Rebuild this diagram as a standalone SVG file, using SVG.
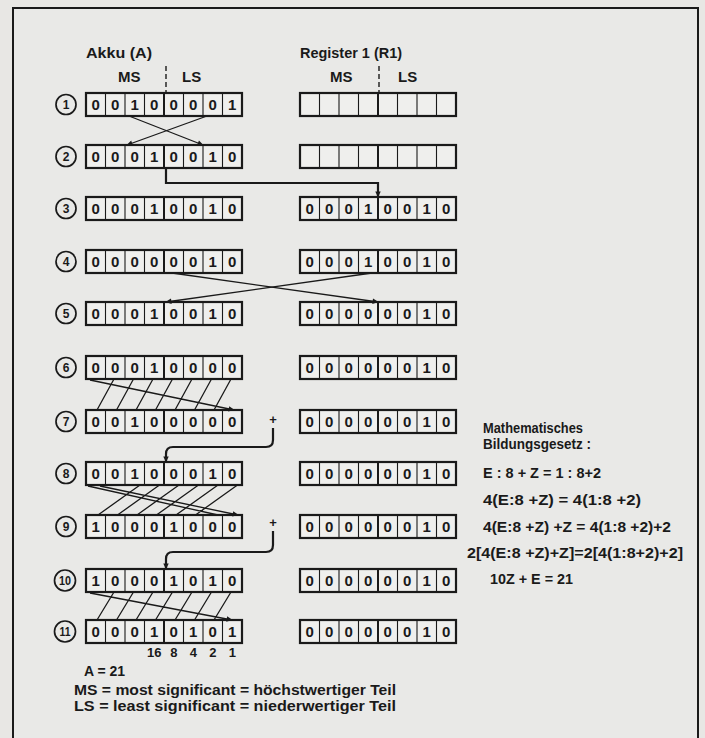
<svg xmlns="http://www.w3.org/2000/svg" xmlns:xlink="http://www.w3.org/1999/xlink" width="705" height="738" viewBox="0 0 705 738">
<style>
text{font-family:"Liberation Sans","DejaVu Sans",Arial,sans-serif;font-weight:bold;fill:#1a1a1a}
.box{fill:#efefed;stroke:#1a1a1a;stroke-width:2.2}
.div{stroke:#1a1a1a;stroke-width:1.1;fill:none}
.mid{stroke:#1a1a1a;stroke-width:2;fill:none}
.d{font-size:15px;text-anchor:middle}
.num{font-size:12px;text-anchor:middle}
.circ{fill:none;stroke:#1a1a1a;stroke-width:1.7}
.hd{font-size:15px}
.cn{stroke:#1a1a1a;stroke-width:1.3;fill:none}
.cnb{stroke:#1a1a1a;stroke-width:2.2;fill:none}
.tx{font-size:14px}
.w{font-size:13px;text-anchor:middle}
.eq{font-size:15px}
</style>
<defs>
<marker id="ah" viewBox="0 0 10 10" refX="9" refY="5" markerWidth="8" markerHeight="6" orient="auto" markerUnits="userSpaceOnUse">
<path d="M0,0.5 L10,5 L0,9.5 z" fill="#1a1a1a"/>
</marker>
<g id="reg">
<rect x="0" y="0" width="156" height="23" class="box"/>
<path d="M19.5 0V23M39 0V23M58.5 0V23M97.5 0V23M117 0V23M136.5 0V23" class="div"/>
<path d="M78 0V23" class="mid"/>
</g>
</defs>
<rect x="0" y="0" width="705" height="738" fill="#e8e7e4"/>
<rect x="13" y="8" width="685" height="745" fill="#e9e9e7" stroke="#1a1a1a" stroke-width="2"/>

<g id="headers">
<text class="hd" x="86" y="58" textLength="66" lengthAdjust="spacingAndGlyphs">Akku (A)</text>
<text class="hd" x="118" y="82">MS</text>
<text class="hd" x="182" y="82">LS</text>
<path d="M166 66V93" stroke="#1a1a1a" stroke-width="1.4" stroke-dasharray="5,3"/>
<text class="hd" x="300" y="58" textLength="102" lengthAdjust="spacingAndGlyphs">Register 1 (R1)</text>
<text class="hd" x="330" y="82">MS</text>
<text class="hd" x="398" y="82">LS</text>
<path d="M379 66V93" stroke="#1a1a1a" stroke-width="1.4" stroke-dasharray="5,3"/>
</g>

<g id="step1">
<circle class="circ" cx="66" cy="104.5" r="10"/><text class="num" x="66" y="109">1</text>
<use xlink:href="#reg" x="86" y="93"/>
<text class="d" x="95.75 115.25 134.75 154.25 173.75 193.25 212.75 232.25" y="110">00100001</text>
<use xlink:href="#reg" x="300" y="93"/>
</g>
<g id="step2">
<circle class="circ" cx="66" cy="156.5" r="10"/><text class="num" x="66" y="161">2</text>
<use xlink:href="#reg" x="86" y="145"/>
<text class="d" x="95.75 115.25 134.75 154.25 173.75 193.25 212.75 232.25" y="162">00010010</text>
<use xlink:href="#reg" x="300" y="145"/>
</g>
<g id="step3">
<circle class="circ" cx="66" cy="208.5" r="10"/><text class="num" x="66" y="213">3</text>
<use xlink:href="#reg" x="86" y="197"/>
<text class="d" x="95.75 115.25 134.75 154.25 173.75 193.25 212.75 232.25" y="214">00010010</text>
<use xlink:href="#reg" x="300" y="197"/>
<text class="d" x="309.75 329.25 348.75 368.25 387.75 407.25 426.75 446.25" y="214">00010010</text>
</g>
<g id="step4">
<circle class="circ" cx="66" cy="261.5" r="10"/><text class="num" x="66" y="266">4</text>
<use xlink:href="#reg" x="86" y="250"/>
<text class="d" x="95.75 115.25 134.75 154.25 173.75 193.25 212.75 232.25" y="267">00000010</text>
<use xlink:href="#reg" x="300" y="250"/>
<text class="d" x="309.75 329.25 348.75 368.25 387.75 407.25 426.75 446.25" y="267">00010010</text>
</g>
<g id="step5">
<circle class="circ" cx="66" cy="313.5" r="10"/><text class="num" x="66" y="318">5</text>
<use xlink:href="#reg" x="86" y="302"/>
<text class="d" x="95.75 115.25 134.75 154.25 173.75 193.25 212.75 232.25" y="319">00010010</text>
<use xlink:href="#reg" x="300" y="302"/>
<text class="d" x="309.75 329.25 348.75 368.25 387.75 407.25 426.75 446.25" y="319">00000010</text>
</g>
<g id="step6">
<circle class="circ" cx="66" cy="367.5" r="10"/><text class="num" x="66" y="372">6</text>
<use xlink:href="#reg" x="86" y="356"/>
<text class="d" x="95.75 115.25 134.75 154.25 173.75 193.25 212.75 232.25" y="373">00010000</text>
<use xlink:href="#reg" x="300" y="356"/>
<text class="d" x="309.75 329.25 348.75 368.25 387.75 407.25 426.75 446.25" y="373">00000010</text>
</g>
<g id="step7">
<circle class="circ" cx="66" cy="421.5" r="10"/><text class="num" x="66" y="426">7</text>
<use xlink:href="#reg" x="86" y="410"/>
<text class="d" x="95.75 115.25 134.75 154.25 173.75 193.25 212.75 232.25" y="427">00100000</text>
<use xlink:href="#reg" x="300" y="410"/>
<text class="d" x="309.75 329.25 348.75 368.25 387.75 407.25 426.75 446.25" y="427">00000010</text>
<text x="273" y="424" font-size="13" text-anchor="middle">+</text>
</g>
<g id="step8">
<circle class="circ" cx="66" cy="473.5" r="10"/><text class="num" x="66" y="478">8</text>
<use xlink:href="#reg" x="86" y="462"/>
<text class="d" x="95.75 115.25 134.75 154.25 173.75 193.25 212.75 232.25" y="479">00100010</text>
<use xlink:href="#reg" x="300" y="462"/>
<text class="d" x="309.75 329.25 348.75 368.25 387.75 407.25 426.75 446.25" y="479">00000010</text>
</g>
<g id="step9">
<circle class="circ" cx="66" cy="526.5" r="10"/><text class="num" x="66" y="531">9</text>
<use xlink:href="#reg" x="86" y="515"/>
<text class="d" x="95.75 115.25 134.75 154.25 173.75 193.25 212.75 232.25" y="532">10001000</text>
<use xlink:href="#reg" x="300" y="515"/>
<text class="d" x="309.75 329.25 348.75 368.25 387.75 407.25 426.75 446.25" y="532">00000010</text>
<text x="273" y="527" font-size="13" text-anchor="middle">+</text>
</g>
<g id="step10">
<circle class="circ" cx="65" cy="580.5" r="10.5"/><text class="num" x="65" y="585" textLength="12" lengthAdjust="spacingAndGlyphs">10</text>
<use xlink:href="#reg" x="86" y="569"/>
<text class="d" x="95.75 115.25 134.75 154.25 173.75 193.25 212.75 232.25" y="586">10001010</text>
<use xlink:href="#reg" x="300" y="569"/>
<text class="d" x="309.75 329.25 348.75 368.25 387.75 407.25 426.75 446.25" y="586">00000010</text>
</g>
<g id="step11">
<circle class="circ" cx="65" cy="631.5" r="10.5"/><text class="num" x="65" y="636" textLength="11" lengthAdjust="spacingAndGlyphs">11</text>
<use xlink:href="#reg" x="86" y="620"/>
<text class="d" x="95.75 115.25 134.75 154.25 173.75 193.25 212.75 232.25" y="637">00010101</text>
<use xlink:href="#reg" x="300" y="620"/>
<text class="d" x="309.75 329.25 348.75 368.25 387.75 407.25 426.75 446.25" y="637">00000010</text>
<g id="weights">
<text class="w" x="154.25" y="657">16</text>
<text class="w" x="173.75" y="657">8</text>
<text class="w" x="193.25" y="657">4</text>
<text class="w" x="212.75" y="657">2</text>
<text class="w" x="232.25" y="657">1</text>
</g>
</g>

<g id="connectors">
<path class="cn" marker-end="url(#ah)" d="M129 116L203 145"/>
<path class="cn" marker-end="url(#ah)" d="M207 116L127 145"/>
<path class="cnb" marker-end="url(#ah)" d="M166 168V183H378V197"/>
<path class="cn" marker-end="url(#ah)" d="M172 273L378 302"/>
<path class="cn" marker-end="url(#ah)" d="M372 273L166 302"/>
<path class="cn" marker-end="url(#ah)" d="M114 379L97 410M133.5 379L116.5 410M153 379L136 410M172.5 379L155.5 410M192 379L175 410M211.5 379L194.5 410M231 379L214 410M90 380L234 410"/>
<path class="cnb" marker-end="url(#ah)" d="M273 428V440Q273 447 266 447H173Q166 447 166 454V462"/>
<path class="cn" marker-end="url(#ah)" d="M140 485L98 515M159.5 485L117.5 515M179 485L137 515M198.5 485L156.5 515M218 485L176 515M237.5 485L195.5 515M88 486L218 515M100 486L238 515"/>
<path class="cnb" marker-end="url(#ah)" d="M273 531V545Q273 552 266 552H173Q166 552 166 559V569"/>
<path class="cn" marker-end="url(#ah)" d="M114 592L97 620M133.5 592L116.5 620M153 592L136 620M172.5 592L155.5 620M192 592L175 620M211.5 592L194.5 620M231 592L214 620M90 593L232 620"/>
</g>

<g id="legend">
<text class="tx" x="84" y="676">A = 21</text>
<text class="tx" x="74" y="695" textLength="322" lengthAdjust="spacingAndGlyphs">MS = most significant = höchstwertiger Teil</text>
<text class="tx" x="74" y="711" textLength="322" lengthAdjust="spacingAndGlyphs">LS = least significant = niederwertiger Teil</text>
</g>

<g id="formula">
<text class="eq" x="483" y="433" textLength="100" lengthAdjust="spacingAndGlyphs">Mathematisches</text>
<text class="eq" x="483" y="449" textLength="108" lengthAdjust="spacingAndGlyphs">Bildungsgesetz :</text>
<text class="eq" x="483" y="478" textLength="118" lengthAdjust="spacingAndGlyphs">E : 8 + Z  = 1 : 8+2</text>
<text class="eq" x="483" y="505" textLength="158" lengthAdjust="spacingAndGlyphs">4(E:8 +Z) = 4(1:8 +2)</text>
<text class="eq" x="483" y="532" textLength="188" lengthAdjust="spacingAndGlyphs">4(E:8 +Z) +Z = 4(1:8 +2)+2</text>
<text class="eq" x="467" y="558" textLength="216" lengthAdjust="spacingAndGlyphs">2[4(E:8 +Z)+Z]=2[4(1:8+2)+2]</text>
<text class="eq" x="490" y="584" textLength="83" lengthAdjust="spacingAndGlyphs">10Z + E  = 21</text>
</g>
</svg>
